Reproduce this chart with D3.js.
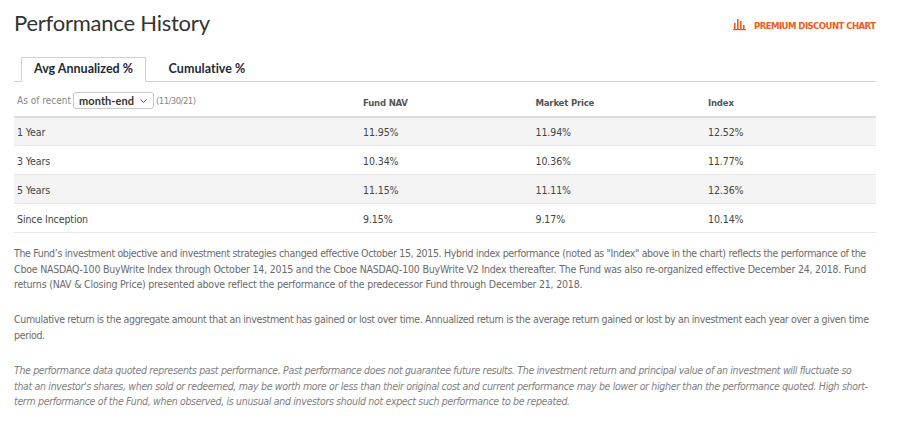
<!DOCTYPE html>
<html>
<head>
<meta charset="utf-8">
<script src="https://cdn.jsdelivr.net/npm/d3@7"></script>
<style>
  html, body { margin: 0; padding: 0; background: #fff; }
  svg { display: block; }
  .cond { font-family: "Liberation Sans Narrow", "DejaVu Sans Condensed", "DejaVu Sans", sans-serif; font-stretch: condensed; }
</style>
</head>
<body>
<svg id="chart"></svg>
<script>
// table data
var periods = ["1 Year", "3 Years", "5 Years", "Since Inception"];
var columns = ["Fund NAV", "Market Price", "Index"];
var fundNav = [11.95, 10.34, 11.15, 9.15];
var marketPrice = [11.94, 10.36, 11.11, 9.17];
var indexVals = [12.52, 11.77, 12.36, 10.14];
var tabs = ["Avg Annualized %", "Cumulative %"];
var asOfDate = "(11/30/21)";

var para1 = [
  "The Fund\u2019s investment objective and investment strategies changed effective October 15, 2015. Hybrid index performance (noted as \"Index\" above in the chart) reflects the performance of the",
  "Cboe NASDAQ-100 BuyWrite Index through October 14, 2015 and the Cboe NASDAQ-100 BuyWrite V2 Index thereafter. The Fund was also re-organized effective December 24, 2018. Fund",
  "returns (NAV & Closing Price) presented above reflect the performance of the predecessor Fund through December 21, 2018."
];
var para2 = [
  "Cumulative return is the aggregate amount that an investment has gained or lost over time. Annualized return is the average return gained or lost by an investment each year over a given time",
  "period."
];
var para3 = [
  "The performance data quoted represents past performance. Past performance does not guarantee future results. The investment return and principal value of an investment will fluctuate so",
  "that an investor's shares, when sold or redeemed, may be worth more or less than their original cost and current performance may be lower or higher than the performance quoted. High short-",
  "term performance of the Fund, when observed, is unusual and investors should not expect such performance to be repeated."
];

var width = 900, height = 431;
var svg = d3.select("#chart").attr("width", width).attr("height", height);

var left = 14, right = 876;

// squeeze or spread a text node to a width with letter-spacing
function spacing(node, w) {
  var s = d3.select(node).text();
  var len = node.getComputedTextLength();
  return s.length > 1 ? (w - len) / (s.length - 1) : 0;
}
function fit(sel, w) {
  sel.each(function() {
    d3.select(this).style("letter-spacing", spacing(this, w) + "px");
  });
}

// title
svg.append("text")
  .attr("x", left).attr("y", 31)
  .style("font-family", "Lato, 'Open Sans', sans-serif")
  .style("font-size", "22px")
  .style("fill", "#333")
  .text("Performance History")
  .call(fit, 196);

// premium discount link + icon
var icon = svg.append("g").attr("transform", "translate(733,19)").style("fill", "#ee5a24");
var barH = [6, 10, 8, 4];
icon.selectAll("rect.b").data(barH).enter().append("rect")
  .attr("x", function(d, i) { return 1 + i * 3; })
  .attr("y", function(d) { return 10 - d; })
  .attr("width", 1.6).attr("height", function(d) { return d; });
icon.append("rect").attr("x", 0).attr("y", 10).attr("width", 13).attr("height", 1.2);
svg.append("text")
  .attr("class", "cond")
  .attr("x", 754).attr("y", 29)
  .style("font-size", "9.5px").style("font-weight", "bold")
  .style("fill", "#ee5a24")
  .text("PREMIUM DISCOUNT CHART")
  .call(fit, 122);

// tabs
var tabX = d3.scaleOrdinal().domain(tabs).range([83.5, 207]);
svg.append("path")
  .attr("d", "M" + left + ",81.5H21.5V57.5H145.5V81.5H" + right)
  .style("fill", "none").style("stroke", "#d0d0d0").style("stroke-width", 1);
svg.append("rect").attr("x", 22).attr("y", 58).attr("width", 123).attr("height", 24).style("fill", "#fff");
svg.selectAll("text.tab").data(tabs).enter().append("text")
  .attr("class", "tab")
  .attr("x", function(d) { return tabX(d); }).attr("y", 73)
  .attr("text-anchor", "middle")
  .style("font-family", "Lato, sans-serif")
  .style("font-size", "12.5px").style("font-weight", "bold")
  .style("fill", "#1f2a36")
  .text(function(d) { return d; })
  .each(function(d, i) { d3.select(this).call(fit, i === 0 ? 99 : 77); });

// as of selector
svg.append("text").attr("class", "cond")
  .attr("x", 17).attr("y", 104)
  .style("font-size", "10px").style("fill", "#888")
  .text("As of recent").call(fit, 54);
svg.append("rect")
  .attr("x", 73.5).attr("y", 92.5).attr("width", 80).attr("height", 16).attr("rx", 2.5)
  .style("fill", "#fff").style("stroke", "#c8c8c8");
svg.append("text")
  .attr("x", 79).attr("y", 104.5)
  .style("font-family", "Lato, sans-serif")
  .style("font-size", "11px").style("font-weight", "bold").style("fill", "#333")
  .text("month-end").call(fit, 55);
svg.append("path")
  .attr("d", "M140.5,99.5l3,3l3,-3")
  .style("fill", "none").style("stroke", "#555").style("stroke-width", 1);
svg.append("text").attr("class", "cond")
  .attr("x", 156).attr("y", 104)
  .style("font-size", "9.5px").style("fill", "#888")
  .text(asOfDate).call(fit, 40);

// scales for the table
var y = d3.scaleBand().domain(periods).range([117, 233]);
var x = d3.scaleBand().domain(columns).range([363, 880.5]);

var series = [fundNav, marketPrice, indexVals];
var fmt = function(v) { return v.toFixed(2) + "%"; };

// column headers
svg.selectAll("text.colhead").data(columns).enter().append("text")
  .attr("class", "cond colhead")
  .attr("x", function(d) { return x(d); }).attr("y", 106)
  .style("font-size", "9.5px").style("font-weight", "bold").style("fill", "#555")
  .style("letter-spacing", "-0.2px")
  .text(function(d) { return d; });

// row backgrounds
svg.selectAll("rect.row").data(periods).enter().append("rect")
  .attr("class", "row")
  .attr("x", left).attr("y", function(d) { return y(d); })
  .attr("width", right - left).attr("height", y.bandwidth())
  .style("fill", function(d, i) { return i % 2 === 0 ? "#f4f4f4" : "#fff"; });

// row separators
var seps = [117].concat(periods.map(function(d) { return y(d) + y.bandwidth(); }));
svg.selectAll("line.sep").data(seps).enter().append("line")
  .attr("x1", left).attr("x2", right)
  .attr("y1", function(d, i) { return i === 0 ? d : d - 0.5; })
  .attr("y2", function(d, i) { return i === 0 ? d : d - 0.5; })
  .style("stroke", function(d, i) { return i === 0 ? "#d4d4d4" : "#e6e6e6"; })
  .style("stroke-width", function(d, i) { return i === 0 ? 1.5 : 1; });

// row labels
svg.selectAll("text.rowlab").data(periods).enter().append("text")
  .attr("class", "cond rowlab")
  .attr("x", 17).attr("y", function(d) { return y(d) + y.bandwidth() / 2 + 4; })
  .style("font-size", "10.5px").style("fill", "#444")
  .style("letter-spacing", "-0.1px")
  .text(function(d) { return d; });

// cells
columns.forEach(function(c, ci) {
  svg.selectAll("text.cell" + ci).data(series[ci]).enter().append("text")
    .attr("class", "cond cell" + ci)
    .attr("x", x(c))
    .attr("y", function(d, i) { return y(periods[i]) + y.bandwidth() / 2 + 4; })
    .style("font-size", "10.5px").style("fill", "#444")
    .style("letter-spacing", "-0.1px")
    .text(fmt);
});

// paragraphs
function paragraph(lines, top, widths, italic) {
  var t = svg.selectAll(null).data(lines).enter().append("text")
    .attr("class", "cond")
    .attr("x", left)
    .attr("y", function(d, i) { return top + i * 15.5; })
    .style("font-size", "10.5px")
    .style("font-style", italic ? "italic" : "normal")
    .style("fill", italic ? "#808080" : "#6a6a6a")
    .text(function(d) { return d; });
  var ls = 0;
  t.each(function(d, i) {
    if (widths[i] != null) ls = spacing(this, widths[i]);
    d3.select(this).style("letter-spacing", ls + "px");
  });
}
paragraph(para1, 257, [852, 852, null], false);
paragraph(para2, 323, [855, null], false);
paragraph(para3, 374, [838, 854, null], true);
</script>
</body>
</html>
